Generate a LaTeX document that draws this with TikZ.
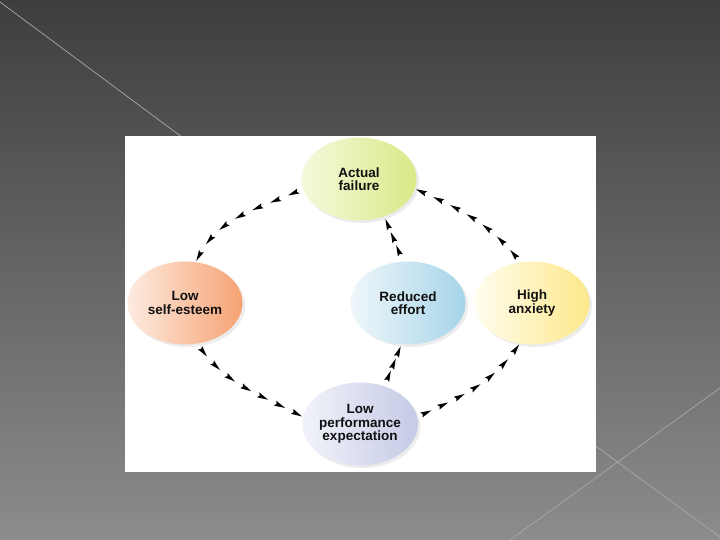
\documentclass[tikz,border=0pt]{standalone}
\usepackage{fontspec}
\setmainfont{Liberation Sans}
\usepackage{tikz}
\usetikzlibrary{shapes.geometric,decorations.markings,shadows}
\definecolor{bgtop}{HTML}{3E3E3E}
\definecolor{bgbottom}{HTML}{8C8C8C}
\definecolor{bgline}{HTML}{A8A8A8}
\definecolor{ctext}{HTML}{101010}
\definecolor{failL}{HTML}{F5F9DE}
\definecolor{failR}{HTML}{D8EA86}
\definecolor{esteemL}{HTML}{FDEBE0}
\definecolor{esteemR}{HTML}{F6A272}
\definecolor{effortL}{HTML}{EFF7FA}
\definecolor{effortR}{HTML}{A6D4E9}
\definecolor{anxietyL}{HTML}{FFFDEE}
\definecolor{anxietyR}{HTML}{FDE88A}
\definecolor{perfL}{HTML}{F2F3F9}
\definecolor{perfR}{HTML}{C5CAE6}

\begin{document}
\begin{tikzpicture}[x=1pt,y=1pt,
  stage/.style={ellipse,minimum width=115pt,minimum height=83pt,inner sep=0pt,
    align=center,font=\fontsize{13.5}{13.6}\selectfont\bfseries,text=ctext,
    drop shadow={shadow xshift=2.5pt,shadow yshift=-2.5pt,opacity=0.15}},
  flow/.style={postaction={decorate},decoration={markings,
    mark=between positions #1 with
      {\fill[black] (5.5pt,0pt) -- (-5.5pt,2.7pt) -- (-4pt,0pt) -- (-5.5pt,-2.7pt) -- cycle;}}}]
  % slide background
  \fill[top color=bgtop,bottom color=bgbottom] (0,0) rectangle (720,540);
  \useasboundingbox (0,0) rectangle (720,540);
  \draw[bgline,line width=0.7pt] (0,538) -- (260,345);
  \draw[bgline,line width=0.7pt] (720,152) -- (510,0);
  \draw[bgline,line width=0.7pt] (560,120) -- (720,3);
  % white panel
  \fill[white] (125,68) rectangle (596,404);
  % stages of the cycle
  \node[stage,left color=failL,right color=failR] (fail) at (359,361) {Actual\\failure};
  \node[stage,left color=esteemL,right color=esteemR] (esteem) at (185,237) {Low\\self-esteem};
  \node[stage,left color=effortL,right color=effortR] (effort) at (408,237) {Reduced\\effort};
  \node[stage,left color=anxietyL,right color=anxietyR] (anxiety) at (532,237) {High\\anxiety};
  \node[stage,left color=perfL,right color=perfR] (perf) at (360,116) {Low\\performance\\expectation};
  % arrows
  \path[flow={0.08 and 0.96 step 0.145}] (fail.190) to[out=205,in=66] (esteem.75);
  \path[flow={0.08 and 0.96 step 0.145}] (esteem.287) to[out=304,in=152] (perf.173);
  \path[flow={0.08 and 0.96 step 0.145}] (perf.7) to[out=25,in=236] (anxiety.253);
  \path[flow={0.08 and 0.96 step 0.145}] (anxiety.106) to[out=128,in=336] (fail.350);
  \path[flow={0.25 and 0.9 step 0.29}] (perf.57) -- (effort.261);
  \path[flow={0.25 and 0.9 step 0.29}] (effort.97) -- (fail.304);
\end{tikzpicture}
\end{document}
